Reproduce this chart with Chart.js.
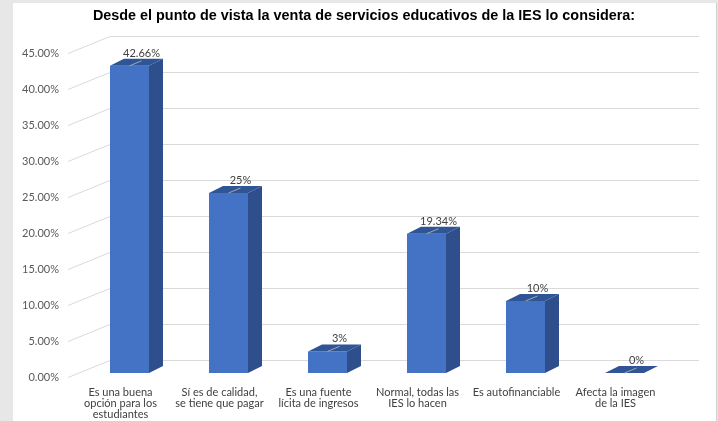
<!DOCTYPE html>
<html>
<head>
<meta charset="utf-8">
<script src="https://cdn.jsdelivr.net/npm/chart.js@4.4.1/dist/chart.umd.min.js"></script>
<style>
  body { margin: 0; background: #e7e7e7; }
  #panel { position: absolute; left: 13px; top: 3px; width: 703px; height: 418px; background: #fff; border-right: 1px solid #cfcfcf; }
  #wrap { position: absolute; left: 0; top: 0; width: 718px; height: 421px; }
</style>
</head>
<body>
<div id="panel"></div>
<div id="wrap"><canvas id="grafica" width="718" height="421"></canvas></div>
<script>
// Datos de la gráfica
const titulo = 'Desde el punto de vista la venta de servicios educativos de la IES lo considera:';
const categorias = [
    ['Es una buena', 'opción para los', 'estudiantes'],
    ['Sí es de calidad,', 'se tiene que pagar'],
    ['Es una fuente', 'lícita de ingresos'],
    ['Normal, todas las', 'IES lo hacen'],
    ['Es autofinanciable'],
    ['Afecta la imagen', 'de la IES']
];
const porcentajes = [42.66, 25, 3, 19.34, 10, 0];
const etiquetas = ['42.66%', '25%', '3%', '19.34%', '10%', '0%'];

// Colores de las caras de las barras
const caraFrente = '#4472c4';
const caraLado = '#2e4e8c';
const caraArriba = '#2f5597';

// Profundidad de las barras y de la pared del fondo
const prof = { dx: 14, dy: -7 };
const pared = { dx: 30, dy: -13 };
const frente = { dx: -12, dy: 4 };

Chart.defaults.font.family = 'Lato, "Open Sans", sans-serif';
Chart.defaults.color = '#595959';

// Plugin que dibuja el título, la pared con las líneas de guía y las caras 3D
const efecto3D = {
    id: 'efecto3D',
    beforeDatasetsDraw(chart) {
        const { ctx, chartArea, scales: { y } } = chart;
        ctx.save();
        ctx.strokeStyle = '#d9d9d9';
        ctx.lineWidth = 1;
        y.ticks.forEach(t => {
            const py = Math.round(y.getPixelForValue(t.value)) + 0.5;
            ctx.beginPath();
            ctx.moveTo(chartArea.left + frente.dx, py + frente.dy);
            ctx.lineTo(chartArea.left + pared.dx, py + pared.dy);
            ctx.lineTo(chartArea.right + 25, py + pared.dy);
            ctx.stroke();
        });
        ctx.restore();
    },
    afterDatasetsDraw(chart) {
        const { ctx } = chart;
        const meta = chart.getDatasetMeta(0);
        ctx.save();
        meta.data.forEach((bar, i) => {
            const izq = bar.x - bar.width / 2;
            const der = bar.x + bar.width / 2;
            const arriba = bar.y;
            const abajo = bar.base;
            // cara lateral
            ctx.fillStyle = caraLado;
            ctx.beginPath();
            ctx.moveTo(der, arriba);
            ctx.lineTo(der + prof.dx, arriba + prof.dy);
            ctx.lineTo(der + prof.dx, abajo + prof.dy);
            ctx.lineTo(der, abajo);
            ctx.closePath();
            ctx.fill();
            // cara superior
            ctx.fillStyle = caraArriba;
            ctx.beginPath();
            ctx.moveTo(izq, arriba);
            ctx.lineTo(izq + prof.dx, arriba + prof.dy);
            ctx.lineTo(der + prof.dx, arriba + prof.dy);
            ctx.lineTo(der, arriba);
            ctx.closePath();
            ctx.fill();
            // línea guía y etiqueta del valor
            ctx.strokeStyle = '#a6a6a6';
            ctx.lineWidth = 1;
            ctx.beginPath();
            ctx.moveTo(bar.x, arriba);
            ctx.lineTo(bar.x + 12, arriba - 5);
            ctx.stroke();
            ctx.fillStyle = '#404040';
            ctx.font = '11px Lato, "Open Sans", sans-serif';
            ctx.textAlign = 'center';
            ctx.textBaseline = 'middle';
            ctx.fillText(etiquetas[i], bar.x + 12, arriba - 12.5);
        });
        // título
        ctx.fillStyle = '#000';
        ctx.font = 'bold 14.4px "Liberation Sans", Arial, sans-serif';
        ctx.textAlign = 'center';
        ctx.textBaseline = 'middle';
        ctx.fillText(titulo, 364, 16);
        ctx.restore();
    }
};

const ctx = document.getElementById('grafica').getContext('2d');
const chart = new Chart(ctx, {
    type: 'bar',
    data: {
        labels: categorias,
        datasets: [{
            data: porcentajes,
            backgroundColor: caraFrente,
            borderWidth: 0,
            barPercentage: 0.394,
            categoryPercentage: 1
        }]
    },
    options: {
        responsive: false,
        animation: false,
        layout: { padding: { top: 49, right: 44, left: 0, bottom: 0 } },
        plugins: { legend: { display: false }, tooltip: { enabled: false } },
        scales: {
            y: {
                min: 0,
                max: 45,
                afterFit: s => { s.width = 80; },
                border: { display: false },
                grid: { display: false, drawTicks: false },
                ticks: {
                    stepSize: 5,
                    padding: 21,
                    labelOffset: 4,
                    font: { size: 11 },
                    callback: v => v.toFixed(2) + '%'
                }
            },
            x: {
                afterFit: s => { s.height = 48; },
                border: { display: false },
                grid: { display: false, drawTicks: false },
                ticks: {
                    padding: 14,
                    labelOffset: -9,
                    maxRotation: 0,
                    autoSkip: false,
                    font: { size: 11, lineHeight: 1.0 },
                    color: '#404040'
                }
            }
        }
    },
    plugins: [efecto3D]
});
</script>
</body>
</html>
